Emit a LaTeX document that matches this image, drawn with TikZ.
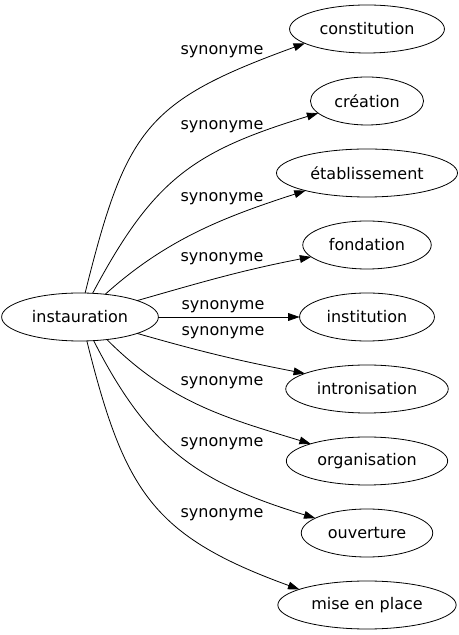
\documentclass[tikz,border=0pt]{standalone}
\usepackage{fontspec}
\setmainfont{DejaVu Sans}
\usepackage{tikz}
\usetikzlibrary{
  arrows.meta,
  shapes.geometric,
  positioning
}
\tikzset{
  wordnode/.style={
    draw, ellipse, inner xsep=5.5pt, minimum height=36pt, outer sep=0pt,
    font=\fontsize{12}{14}\selectfont, line width=0.6pt
  },
  synlabel/.style={font=\fontsize{12}{14}\selectfont, inner sep=0pt},
  synedge/.style={-{Triangle[length=8.5pt, width=5.8pt]}, line width=0.6pt}
}
\begin{document}
\begin{tikzpicture}[x=0.75pt, y=0.75pt, node distance=18pt]
  \useasboundingbox (0,0) rectangle (458,635);
  \node[wordnode] (inst) at (80,318) {instauration};
  \node[wordnode] (const) at (367,606) {constitution};
  \node[wordnode, below=of const] (creat) {création};
  \node[wordnode, below=of creat] (etab) {établissement};
  \node[wordnode, below=of etab] (fond) {fondation};
  \node[wordnode, below=of fond] (instit) {institution};
  \node[wordnode, below=of instit] (intro) {intronisation};
  \node[wordnode, below=of intro] (orga) {organisation};
  \node[wordnode, below=of orga] (ouv) {ouverture};
  \node[wordnode, below=of ouv] (mise) {mise en place};
  % edge labels
  \node[synlabel] (lconst) at (222,583) {synonyme};
  \node[synlabel] (lcreat) at (222,508) {synonyme};
  \node[synlabel] (letab) at (222,436) {synonyme};
  \node[synlabel] (lfond) at (222,376) {synonyme};
  \node[synlabel] (linstit) at (223,328) {synonyme};
  \node[synlabel] (lintro) at (223,302) {synonyme};
  \node[synlabel] (lorga) at (222,252) {synonyme};
  \node[synlabel] (louv) at (222,191) {synonyme};
  \node[synlabel] (lmise) at (222,120) {synonyme};
  % edges
  \draw[synedge] (inst.78) to[out=76, in=200, looseness=1.3] (const.193);
  \draw[synedge] (inst.62) to[out=62, in=197, looseness=1.15] (creat.194);
  \draw[synedge] (inst.42) to[out=42, in=198, looseness=0.95] (etab.196);
  \draw[synedge] (inst.16) to[out=16, in=191] (fond.192);
  \draw[synedge] (inst.east) -- (instit.west);
  \draw[synedge] (inst.-16) to[out=-16, in=169] (intro.166);
  \draw[synedge] (inst.-40) to[out=-45, in=163] (orga.163);
  \draw[synedge] (inst.-60) to[out=-63, in=163, looseness=1.1] (ouv.164);
  \draw[synedge] (inst.-74) to[out=-76, in=160, looseness=1.22] (mise.167);
\end{tikzpicture}
\end{document}
